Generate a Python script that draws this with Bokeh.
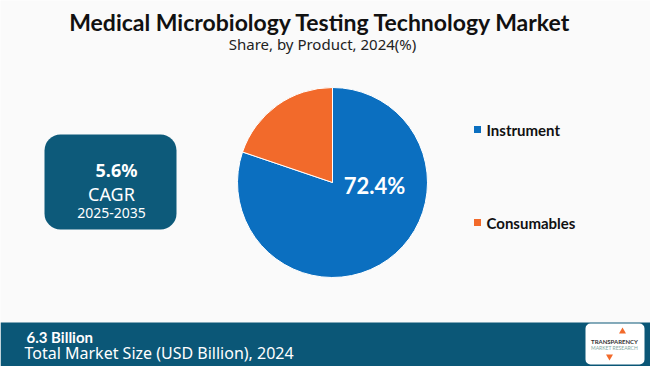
import numpy as np
from bokeh.plotting import figure
from bokeh.models import Range1d, BoxAnnotation, ColumnDataSource
from bokeh.core.properties import value
from bokeh.embed import file_html
from bokeh.resources import INLINE

title = "Medical Microbiology Testing Technology Market"
subtitle = "Share, by Product, 2024(%)"
categories = ["Instrument", "Consumables"]
shares = [80.2, 19.8]          # slice sizes as drawn
colors = ["#0B6FC0", "#F26A2B"]
label_text = "72.4%"
cagr_value = "5.6%"
cagr_label = "CAGR"
cagr_period = "2025-2035"
market_value = "6.3 Billion"
market_label = "Total Market Size (USD Billion), 2024"

W, H = 650, 366
def Y(yy):  # reference pixel y -> data y
    return H - yy
def X(xx):
    return xx

p = figure(width=W, height=H, output_backend="svg", toolbar_location=None,
           x_range=Range1d(0, W), y_range=Range1d(0, H), min_border=0,
           background_fill_color="#FAFAFA", border_fill_color="#FAFAFA")
p.axis.visible = False
p.grid.visible = False
p.outline_line_color = None

# Title
p.text([X(320)], [Y(21)], text=[title], text_font=value("Lato"), text_font_style="bold",
       text_font_size="23px", text_align="center", text_baseline="middle", text_color="#111111")
p.text([X(322)], [Y(43)], text=[subtitle], text_font=value("Noto Sans"),
       text_font_size="15px", text_align="center", text_baseline="middle", text_color="#222222")

# Pie
frac = np.array(shares) / sum(shares)
ends = np.pi / 2 - 2 * np.pi * np.cumsum(frac)
starts = np.concatenate([[np.pi / 2], ends[:-1]])
src = ColumnDataSource(dict(cat=categories, start=starts, end=ends, color=colors,
                            x=[X(332)] * 2, y=[Y(182)] * 2))
p.wedge(x="x", y="y", radius=95, start_angle="start", end_angle="end", direction="clock",
        fill_color="color", line_color="white", line_width=1, source=src)
p.text([X(374)], [Y(185)], text=[label_text], text_font=value("Lato"), text_font_style="bold",
       text_font_size="22px", text_align="center", text_baseline="middle", text_color="white")

# Legend
leg_y = [Y(129), Y(222)]
p.scatter([X(477)] * 2, leg_y, marker="square", size=7, fill_color=colors, line_color=None)
p.text([X(486)] * 2, leg_y, text=categories, text_font=value("Lato"), text_font_style="bold",
       text_font_size="15px", text_align="left", text_baseline="middle", text_color="#111111")

# CAGR box
p.add_layout(BoxAnnotation(left=X(44), right=X(176), bottom=Y(229), top=Y(134),
                           fill_color="#0D5A7A", fill_alpha=1, line_color=None, border_radius=16,
                           level="underlay"))
p.text([X(116)], [Y(169)], text=[cagr_value], text_font=value("Noto Sans"), text_font_style="bold",
       text_font_size="18px", text_align="center", text_baseline="middle", text_color="white")
p.text([X(111)], [Y(193)], text=[cagr_label], text_font=value("Noto Sans"),
       text_font_size="18px", text_align="center", text_baseline="middle", text_color="white")
p.text([X(111)], [Y(212)], text=[cagr_period], text_font=value("Noto Sans"),
       text_font_size="14px", text_align="center", text_baseline="middle", text_color="white")

# Bottom band
p.add_layout(BoxAnnotation(left=0, right=W, bottom=0, top=Y(322),
                           fill_color="#0B5777", fill_alpha=1, line_color=None, level="underlay"))
p.text([X(26)], [Y(336)], text=[market_value], text_font=value("Lato"), text_font_style="bold",
       text_font_size="15px", text_align="left", text_baseline="middle", text_color="white")
p.text([X(24)], [Y(352)], text=[market_label], text_font=value("Noto Sans"),
       text_font_size="16px", text_align="left", text_baseline="middle", text_color="white")

# Logo
p.add_layout(BoxAnnotation(left=X(585), right=X(644), bottom=Y(364), top=Y(323),
                           fill_color="white", fill_alpha=1, line_color=None, border_radius=5,
                           level="underlay"))
p.text([X(614)], [Y(341)], text=["TRANSPARENCY"], text_font=value("Lato"), text_font_style="bold",
       text_font_size="6px", text_align="center", text_baseline="middle", text_color="#333333")
p.text([X(614)], [Y(347)], text=["MARKET RESEARCH"], text_font=value("Lato"),
       text_font_size="5px", text_align="center", text_baseline="middle", text_color="#7FA8A0")
p.scatter([X(622)], [Y(331)], marker="triangle", size=7, fill_color="#F26A2B", line_color=None)
p.scatter([X(609)], [Y(356)], marker="inverted_triangle", size=7, fill_color="#F26A2B", line_color=None)

open("out.html", "w").write(file_html(p, INLINE))
